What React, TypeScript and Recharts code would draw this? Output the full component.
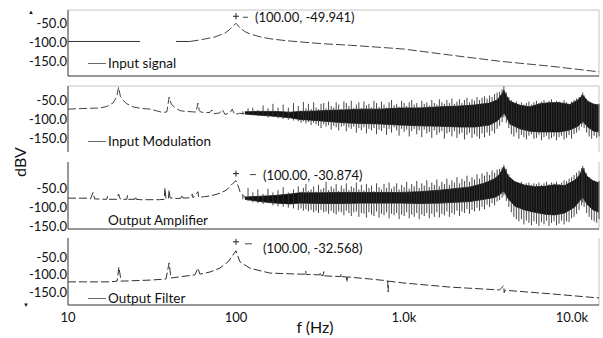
import React from "react";
import {
  ComposedChart,
  Line,
  Area,
  XAxis,
  YAxis,
  ErrorBar,
  ReferenceLine,
  ReferenceDot,
} from "recharts";

type Pt = [number, number | null];
type Rng = [number, number, number];

// ---------- data (frequency in Hz, level in dBV) ----------
const xTicks = [10, 100, 1000, 10000];
const xTickLabels = ["10", "100", "1.0k", "10.0k"];
const yTicks = [-50, -100, -150];
const legendLabels = ["Input signal", "Input Modulation", "Output Amplifier", "Output Filter"];

const inputSignalFlat: Pt[] = [
  [10, -98], [18, -98], [26.8, -98], [28, null], [44, -98], [53, -98],
];
const inputSignalSweep: Pt[] = [
  [53, -98], [61, -94], [75, -86], [86, -76], [92, -66], [95.5, -58], [100, -49.941],
  [105.7, -62], [113, -72], [121, -78], [140, -86], [160, -91], [200, -96], [240, -99],
  [330, -104], [480, -108], [700, -113], [1000, -118], [1900, -134], [3700, -150],
  [7400, -163], [14500, -178],
];
const inputSignalPeak = [100.0, -49.941];

const inputModulationLow: Pt[] = [
  [10, -74], [13, -72], [15.5, -71], [17, -67], [18.5, -58], [19.5, -42], [20, -16],
  [20.5, -40], [21.2, -50], [22.4, -60], [24.4, -68], [27, -72], [30.8, -74], [34, -79],
  [36.7, -83], [38.8, -81], [40, -42], [41, -58], [41.6, -63], [44, -72], [46.4, -78],
  [50, -80], [55, -81], [57.8, -82], [59.4, -58], [60.5, -78], [62, -82], [70, -83],
  [72, -76], [74, -86], [80, -84], [83, -75], [86, -88], [92, -84], [95, -74], [98, -88],
  [105, -85], [113, -86],
];
// core of the noise floor: [f, low, high]
const inputModulationBand: Rng[] = [
  [113, -87, -81], [139, -90, -80], [171, -93, -80], [210, -97, -82], [240, -101, -80],
  [300, -104, -79], [362, -107, -77], [445, -110, -76], [550, -112, -74], [720, -113, -74],
  [950, -116, -71], [1245, -118, -71], [1635, -119, -68], [2150, -121, -66],
  [2640, -121, -63], [3230, -116, -58], [3590, -105, -50], [3830, -92, -34],
  [3935, -84, -24], [4050, -92, -37], [4270, -113, -53], [4900, -126, -64],
  [5620, -132, -68], [6450, -134, -60], [7390, -134, -57], [8470, -134, -57],
  [9710, -129, -62], [10850, -119, -50], [11600, -105, -37], [12400, -121, -53],
  [13500, -132, -61], [14500, -134, -63],
];
// individual noise spikes: [f, low, high]
const inputModulationSpikes: Rng[] = [
  [110, -88, -80], [118, -87, -72], [126, -90, -70], [135, -92, -76], [145, -92, -64],
  [155, -96, -72], [166, -95, -60], [178, -98, -70], [191, -100, -62], [205, -102, -70],
  [220, -104, -58], [235, -106, -66], [244, -110, -78], [252, -106, -55], [261, -112, -72],
  [270, -108, -60], [280, -116, -74], [290, -110, -56], [300, -114, -70], [310, -118, -74],
  [321, -124, -60], [333, -114, -58], [344, -120, -72], [356, -116, -54], [369, -128, -66],
  [382, -118, -70], [395, -122, -56], [409, -130, -62], [424, -120, -74], [439, -118, -54],
  [454, -132, -58], [470, -122, -66], [486, -126, -52], [503, -120, -70], [521, -136, -62],
  [539, -124, -56], [558, -130, -72], [578, -122, -54], [598, -138, -64], [619, -126, -60],
  [641, -130, -70], [663, -124, -52], [687, -140, -58], [711, -128, -68], [735, -132, -54],
  [761, -124, -62], [788, -142, -70], [816, -126, -56], [844, -136, -50], [874, -122, -64],
  [905, -130, -60], [936, -144, -68], [969, -126, -52], [1003, -134, -58], [1038, -128, -66],
  [1075, -146, -56], [1112, -132, -50], [1151, -126, -62], [1192, -140, -58],
  [1233, -130, -68], [1277, -148, -52], [1321, -128, -60], [1368, -138, -56],
  [1416, -134, -64], [1465, -150, -50], [1517, -130, -58], [1570, -142, -62],
  [1625, -136, -48], [1682, -132, -56], [1741, -152, -60], [1802, -138, -50],
  [1865, -134, -58], [1930, -146, -46], [1998, -132, -60], [2068, -150, -54],
  [2140, -140, -48], [2215, -136, -58], [2293, -154, -50], [2373, -142, -44],
  [2456, -136, -56], [2542, -150, -48], [2631, -140, -52], [2723, -146, -42],
  [2819, -152, -50], [2917, -138, -44], [3019, -148, -40], [3125, -136, -46],
  [3235, -144, -38], [3348, -132, -42], [3465, -138, -34], [3587, -126, -30],
  [3712, -118, -28], [3842, -108, -22], [3935, -96, -14], [4070, -110, -30],
  [4213, -124, -42], [4360, -140, -50], [4513, -146, -58], [4671, -136, -54],
  [4834, -152, -60], [5004, -142, -56], [5179, -148, -62], [5360, -154, -58],
  [5548, -144, -54], [5742, -140, -62], [5943, -152, -56], [6151, -150, -52],
  [6366, -142, -58], [6589, -156, -54], [6820, -148, -50], [7059, -144, -56],
  [7306, -154, -52], [7561, -150, -48], [7826, -146, -56], [8100, -156, -52],
  [8383, -148, -54], [8677, -144, -58], [8981, -154, -50], [9295, -150, -56],
  [9620, -142, -60], [9957, -152, -54], [10305, -140, -50], [10666, -136, -46],
  [11039, -130, -42], [11425, -120, -36], [11600, -112, -30], [11825, -124, -38],
  [12239, -136, -48], [12667, -146, -56], [13111, -152, -58], [13570, -144, -60],
  [14045, -150, -62], [14500, -146, -60],
];

const outputAmplifierLow: Pt[] = [
  [10, -77], [13.1, -77], [13.6, -79], [14.1, -62], [14.4, -79], [17, -80], [17.2, -72],
  [17.5, -80], [19.5, -80], [20, -66], [20.5, -80], [22.4, -80], [22.6, -70], [22.9, -80],
  [25, -80], [25.2, -72], [25.5, -80], [27, -81], [30, -81], [35, -81], [37.4, -80],
  [37.8, -50], [38.3, -78], [39.6, -79], [40, -55], [40.5, -76], [44, -78], [47, -77],
  [48, -68], [48.5, -77], [53, -76], [55, -66], [55.5, -76], [59.4, -60], [60, -75],
  [65, -73], [70, -71], [75, -68], [80, -64], [86, -58], [89.6, -52], [92, -46],
  [95.9, -38], [100, -30.874], [103, -45], [105.7, -60], [109, -68], [113, -74],
];
const outputAmplifierPeak = [100.0, -30.874];
const outputAmplifierBand: Rng[] = [
  [113, -80, -74], [139, -86, -72], [171, -90, -70], [210, -92, -66], [240, -90, -63],
  [316, -91, -63], [415, -91, -62], [550, -90, -62], [720, -90, -62], [950, -90, -62],
  [1245, -91, -60], [1635, -90, -56], [2000, -88, -52], [2460, -86, -48], [3000, -80, -38],
  [3470, -75, -26], [3700, -68, -15], [3935, -58, 5], [4170, -78, -19], [4580, -98, -34],
  [5240, -108, -43], [6000, -114, -47], [6900, -119, -46], [7900, -121, -42],
  [9050, -116, -44], [10400, -100, -30], [11130, -84, -16], [11600, -74, 2],
  [12250, -92, -19], [13400, -108, -32], [14500, -114, -37],
];
const outputAmplifierSpikes: Rng[] = [
  [110, -80, -68], [118, -84, -50], [126, -88, -62], [135, -90, -54], [145, -92, -66],
  [155, -90, -52], [166, -96, -62], [178, -98, -56], [191, -100, -48], [205, -102, -62],
  [220, -104, -54], [235, -108, -46], [244, -104, -60], [252, -110, -50], [261, -106, -40],
  [270, -112, -58], [280, -108, -54], [290, -114, -46], [300, -110, -60], [310, -116, -42],
  [321, -108, -54], [333, -114, -50], [344, -112, -34], [356, -118, -56], [369, -110, -46],
  [382, -116, -52], [395, -120, -40], [409, -112, -58], [424, -114, -44], [439, -122, -52],
  [454, -110, -38], [470, -116, -56], [486, -124, -46], [503, -114, -50], [521, -112, -36],
  [539, -126, -54], [558, -116, -42], [578, -118, -56], [598, -128, -40], [619, -114, -50],
  [641, -120, -44], [663, -124, -58], [687, -112, -38], [711, -128, -48], [735, -118, -54],
  [761, -122, -40], [788, -114, -50], [816, -130, -36], [844, -118, -52], [874, -122, -46],
  [905, -116, -38], [936, -132, -54], [969, -120, -42], [1003, -124, -48], [1038, -114, -34],
  [1075, -130, -52], [1112, -120, -40], [1151, -126, -46], [1192, -116, -32],
  [1233, -132, -50], [1277, -120, -38], [1321, -124, -44], [1368, -116, -30],
  [1416, -130, -48], [1465, -118, -36], [1517, -126, -42], [1570, -114, -28],
  [1625, -128, -46], [1682, -118, -34], [1741, -122, -40], [1802, -112, -26],
  [1865, -126, -42], [1930, -116, -30], [1998, -120, -36], [2068, -110, -22],
  [2140, -124, -38], [2215, -112, -26], [2293, -116, -32], [2373, -106, -18],
  [2456, -118, -34], [2542, -108, -22], [2631, -112, -28], [2723, -102, -14],
  [2819, -110, -26], [2917, -100, -12], [3019, -106, -18], [3125, -94, -8],
  [3235, -100, -16], [3348, -90, -4], [3465, -96, -10], [3587, -86, -2], [3712, -82, 0],
  [3842, -76, 4], [3935, -70, 10], [4070, -84, 0], [4213, -100, -14], [4360, -114, -26],
  [4513, -126, -32], [4671, -132, -36], [4834, -138, -40], [5004, -132, -34],
  [5179, -146, -42], [5360, -136, -38], [5548, -142, -36], [5742, -148, -42],
  [5943, -138, -38], [6151, -144, -40], [6366, -150, -36], [6589, -140, -42],
  [6820, -146, -38], [7059, -136, -34], [7306, -150, -40], [7561, -142, -36],
  [7826, -138, -38], [8100, -148, -34], [8383, -144, -40], [8677, -136, -36],
  [8981, -146, -30], [9295, -138, -32], [9620, -140, -26], [9957, -130, -22],
  [10305, -126, -16], [10666, -118, -10], [11039, -108, -4], [11425, -96, 2],
  [11600, -88, 8], [11825, -100, 2], [12239, -116, -12], [12667, -126, -22],
  [13111, -134, -28], [13570, -138, -30], [14045, -142, -34], [14500, -132, -32],
];

const outputFilter: Pt[] = [
  [10, -121], [12.5, -121], [17.8, -121], [19.6, -119], [20.1, -79], [20.7, -119],
  [30.8, -116], [38.3, -113], [40, -67], [41, -110], [57, -101], [59.4, -82], [61, -99],
  [70, -93], [80, -82], [89.6, -64], [95.9, -45], [100, -32.568], [105.7, -64], [121, -82],
  [159, -96], [240, -99], [258, -99], [260, -90], [262, -100], [316, -101], [318, -94],
  [320, -102], [330, -103], [333, -92], [336, -104], [420, -106], [423, -98], [426, -106],
  [455, -107], [458, -122], [461, -107], [630, -113], [800, -118], [805, -150], [810, -119],
  [986, -124], [1880, -136], [3700, -144], [3935, -132], [3950, -152], [4000, -145],
  [7400, -155], [14500, -167],
];
const outputFilterPeak = [100.0, -32.568];

// ---------- helpers ----------
const FONT = "Lato, 'Liberation Sans', sans-serif";
const X_DOMAIN: [number, number] = [10, 14500];
const W = 603;

const toLine = (pts: Pt[]) => pts.map(([f, v]) => ({ f, v }));
const toBand = (pts: Rng[]) => pts.map(([f, lo, hi]) => ({ f, band: [lo, hi] }));
// a spike is drawn as a vertical error bar hanging from its top value down to its low value
const toSpikes = (pts: Rng[]) => pts.map(([f, lo, hi]) => ({ f, v: hi, err: [hi - lo, 0] }));
const peakLabel = (p: number[]) => `(${p[0].toFixed(2)}, ${p[1].toFixed(3)})`;

const makeMarker =
  (label: string, markDy: number, dash1: number, dash2: number, dashDy: number, textDx: number, textDy: number) =>
  (props: any) => {
    const { cx, cy } = props;
    if (cx == null || cy == null) return <g />;
    const my = cy + markDy;
    return (
      <g>
        <line x1={cx - 3} x2={cx + 3} y1={my} y2={my} stroke="#222" strokeWidth={1} />
        <line x1={cx} x2={cx} y1={my - 3} y2={my + 3} stroke="#222" strokeWidth={1} />
        <line x1={cx + dash1} x2={cx + dash2} y1={cy + dashDy} y2={cy + dashDy} stroke="#444" strokeWidth={1} />
        <text x={cx + textDx} y={cy + textDy} dominantBaseline="central" fontSize={13} fontFamily={FONT} fill="#111">
          {label}
        </text>
      </g>
    );
  };

const yAxisProps = {
  width: 60,
  ticks: yTicks,
  tickSize: 0,
  tickMargin: 1,
  tickLine: false,
  interval: 0 as const,
  allowDataOverflow: true,
  type: "number" as const,
  axisLine: { stroke: "#333" },
  tick: { fontSize: 13, fontFamily: FONT, fill: "#111" },
  tickFormatter: (v: number) => v.toFixed(1),
};

const xHidden = (line: boolean) => (
  <XAxis
    dataKey="f"
    type="number"
    scale="log"
    domain={X_DOMAIN}
    allowDataOverflow
    ticks={xTicks}
    tick={false}
    tickLine={false}
    height={1}
    axisLine={line ? { stroke: "#333" } : false}
  />
);

const borders = (yTop: number | null) => (
  <>
    {yTop !== null && <ReferenceLine y={yTop} stroke="#c4c4c4" />}
    <ReferenceLine x={X_DOMAIN[1]} stroke="#c4c4c4" />
  </>
);

const noise = (lowPts: Pt[], band: Rng[], spikes: Rng[], lowColor: string) => (
  <>
    <Line data={toLine(lowPts)} dataKey="v" stroke={lowColor} strokeWidth={1} strokeDasharray="8 3" dot={false} activeDot={false} isAnimationActive={false} />
    <Area data={toBand(band)} dataKey="band" stroke="#111" strokeWidth={0.8} fill="#111" fillOpacity={1} dot={false} activeDot={false} isAnimationActive={false} />
    <Line data={toSpikes(spikes)} dataKey="v" stroke="none" strokeWidth={0} dot={false} activeDot={false} isAnimationActive={false}>
      <ErrorBar dataKey="err" direction="y" width={0} stroke="#333" strokeWidth={0.9} isAnimationActive={false} />
    </Line>
  </>
);

export default function App() {
  const d1: [number, number] = [-189, -15];
  const d2: [number, number] = [-187, -13];
  const d3: [number, number] = [-158, 18];
  const d4: [number, number] = [-187, 4];

  const margin = { top: 10, right: 4, bottom: 3, left: 8 };

  const legendPos = [
    { top: 63, line: true },
    { top: 141, line: true },
    { top: 220, line: false },
    { top: 298, line: true },
  ];

  return (
    <div
      style={{
        position: "fixed",
        left: 0,
        top: 0,
        width: W,
        height: 338,
        background: "#fff",
        overflow: "hidden",
        fontFamily: FONT,
      }}
    >
      {/* Panel 1: Input signal */}
      <div style={{ position: "absolute", left: 0, top: 0 }}>
        <ComposedChart width={W} height={80} margin={margin}>
          {xHidden(true)}
          <YAxis {...yAxisProps} domain={d1} />
          {borders(d1[1])}
          <Line data={toLine(inputSignalFlat)} dataKey="v" stroke="#333" strokeWidth={1} dot={false} activeDot={false} isAnimationActive={false} connectNulls={false} />
          <Line data={toLine(inputSignalSweep)} dataKey="v" stroke="#444" strokeWidth={1} strokeDasharray="9 3" dot={false} activeDot={false} isAnimationActive={false} />
          <ReferenceDot x={inputSignalPeak[0]} y={inputSignalPeak[1]} r={0} shape={makeMarker(peakLabel(inputSignalPeak), -7, 7, 12, -6, 19, -6)} />
        </ComposedChart>
      </div>

      {/* Panel 2: Input Modulation */}
      <div style={{ position: "absolute", left: 0, top: 76 }}>
        <ComposedChart width={W} height={80} margin={margin}>
          {xHidden(false)}
          <YAxis {...yAxisProps} domain={d2} />
          {borders(d2[1])}
          {noise(inputModulationLow, inputModulationBand, inputModulationSpikes, "#444")}
        </ComposedChart>
      </div>

      {/* Panel 3: Output Amplifier */}
      <div style={{ position: "absolute", left: 0, top: 152 }}>
        <ComposedChart width={W} height={81} margin={margin}>
          {xHidden(true)}
          <YAxis {...yAxisProps} domain={d3} />
          {borders(null)}
          {noise(outputAmplifierLow, outputAmplifierBand, outputAmplifierSpikes, "#333")}
          <ReferenceDot x={outputAmplifierPeak[0]} y={outputAmplifierPeak[1]} r={0} shape={makeMarker(peakLabel(outputAmplifierPeak), -7, 14, 20, -6, 27, -6)} />
        </ComposedChart>
      </div>

      {/* Panel 4: Output Filter */}
      <div style={{ position: "absolute", left: 0, top: 228 }}>
        <ComposedChart width={W} height={107} margin={{ top: 10, right: 4, bottom: 0, left: 8 }}>
          <XAxis
            dataKey="f"
            type="number"
            scale="log"
            domain={X_DOMAIN}
            allowDataOverflow
            ticks={xTicks}
            interval={0}
            tickSize={0}
            tickMargin={8}
            tickLine={false}
            height={30}
            axisLine={{ stroke: "#333" }}
            tick={{ fontSize: 13, fontFamily: FONT, fill: "#111" }}
            tickFormatter={(v: number) => xTickLabels[xTicks.indexOf(v)] ?? String(v)}
          />
          <YAxis {...yAxisProps} domain={d4} />
          {borders(null)}
          <Line data={toLine(outputFilter)} dataKey="v" stroke="#333" strokeWidth={1} strokeDasharray="8 3" dot={false} activeDot={false} isAnimationActive={false} />
          <ReferenceDot x={outputFilterPeak[0]} y={outputFilterPeak[1]} r={0} shape={makeMarker(peakLabel(outputFilterPeak), -9, 9, 16, -7, 27, -3)} />
        </ComposedChart>
      </div>

      {/* Legends */}
      {legendLabels.map((lab, i) => (
        <React.Fragment key={lab}>
          {legendPos[i].line && (
            <div style={{ position: "absolute", left: 88, top: legendPos[i].top, width: 18, borderTop: "1px solid #666" }} />
          )}
          <div
            style={{
              position: "absolute",
              left: 108,
              top: legendPos[i].top - 9,
              fontSize: 13.5,
              lineHeight: "18px",
              color: "#111",
              whiteSpace: "nowrap",
            }}
          >
            {lab}
          </div>
        </React.Fragment>
      ))}

      {/* Axis titles */}
      <div
        style={{
          position: "absolute",
          left: 20,
          top: 162,
          fontSize: 16,
          color: "#111",
          transform: "translate(-50%, -50%) rotate(-90deg)",
          whiteSpace: "nowrap",
          lineHeight: "18px",
        }}
      >
        dBV
      </div>
      <div
        style={{
          position: "absolute",
          left: 315,
          top: 327,
          fontSize: 16,
          color: "#111",
          transform: "translate(-50%, -50%)",
          whiteSpace: "nowrap",
          lineHeight: "18px",
        }}
      >
        f (Hz)
      </div>

      {/* axis arrow markers */}
      <div style={{ position: "absolute", left: 28, top: 9, fontSize: 6, lineHeight: "6px", color: "#111" }}>▲</div>
      <div style={{ position: "absolute", left: 23, top: 302, fontSize: 6, lineHeight: "6px", color: "#111" }}>▼</div>
    </div>
  );
}
